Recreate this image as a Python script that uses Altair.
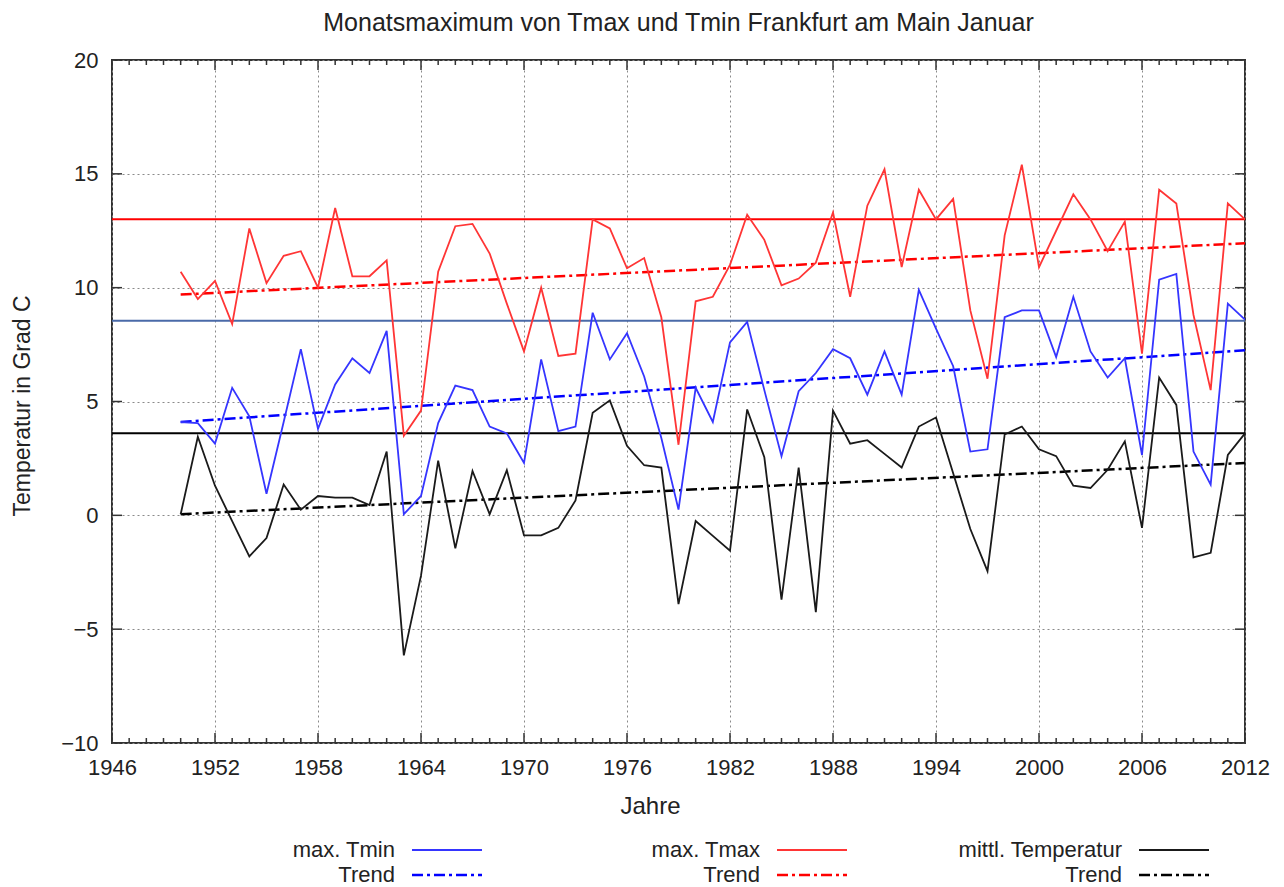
import altair as alt
import pandas as pd

# ---- data ----
years = list(range(1950, 2013))

tmax = [10.7, 9.5, 10.3, 8.4, 12.6, 10.2, 11.4, 11.6, 10.0, 13.5,
        10.5, 10.5, 11.2, 3.5, 4.6, 10.7, 12.7, 12.8, 11.5, 9.3,
        7.2, 10.0, 7.0, 7.1, 13.0, 12.6, 10.85, 11.3, 8.7, 3.1,
        9.4, 9.6, 11.0, 13.2, 12.1, 10.1, 10.4, 11.1, 13.3, 9.6,
        13.6, 15.2, 10.9, 14.3, 13.0, 13.9, 9.0, 6.0, 12.3, 15.4,
        10.9, 12.5, 14.1, 13.0, 11.6, 12.9, 7.1, 14.3, 13.7, 8.8,
        5.5, 13.7, 13.0]

tmin = [4.1, 4.05, 3.15, 5.6, 4.35, 0.95, 4.1, 7.3, 3.8, 5.75,
        6.9, 6.25, 8.1, 0.05, 0.85, 4.05, 5.7, 5.5, 3.9, 3.6,
        2.3, 6.85, 3.7, 3.9, 8.9, 6.85, 8.0, 6.1, 3.4, 0.25,
        5.6, 4.1, 7.6, 8.5, 5.5, 2.6, 5.45, 6.25, 7.3, 6.9,
        5.3, 7.2, 5.3, 9.9, 8.2, 6.55, 2.8, 2.9, 8.7, 9.0,
        9.0, 6.95, 9.6, 7.2, 6.05, 6.9, 2.65, 10.35, 10.6, 2.8,
        1.35, 9.3, 8.6]

tmean = [0.05, 3.45, 1.3, -0.25, -1.8, -1.0, 1.35, 0.25, 0.85, 0.78,
         0.78, 0.45, 2.8, -6.15, -2.65, 2.4, -1.45, 1.95, 0.05, 1.98,
         -0.88, -0.88, -0.55, 0.65, 4.5, 5.05, 3.05, 2.2, 2.1, -3.9,
         -0.25, -0.9, -1.55, 4.65, 2.55, -3.7, 2.1, -4.25, 4.6, 3.15,
         3.3, 2.7, 2.1, 3.9, 4.3, 1.85, -0.6, -2.45, 3.55, 3.9,
         2.9, 2.6, 1.3, 1.2, 2.0, 3.25, -0.55, 6.05, 4.85, -1.85,
         -1.65, 2.65, 3.6]

assert len(tmax) == len(years) == len(tmin) == len(tmean)

# trend end points (1950, 2012) and long-term level lines
trend_years = [1950, 2012]
trend_tmax = [9.7, 11.95]
trend_tmin = [4.1, 7.25]
trend_tmean = [0.05, 2.3]

level_years = [1946, 2012]
level_tmax = 13.0
level_tmin = 8.55
level_tmean = 3.6

x_ticks = list(range(1946, 2013, 6))
x_minor = [y for y in range(1946, 2013) if y not in x_ticks]
y_ticks = list(range(-10, 21, 5))

legend_labels = ["max. Tmin", "Trend", "max. Tmax", "Trend",
                 "mittl. Temperatur", "Trend"]

# ---- styling ----
FONT = "Liberation Sans"
W, H = 1133, 683
RED, BLUE, BLACK = "#ff3535", "#3535ff", "#1a1a1a"
LEVEL_BLUE = "#4a6aa8"
DASHDOT = [11, 4, 3, 4]

xs = alt.Scale(domain=[1946, 2012], nice=False, zero=False)
ys = alt.Scale(domain=[-10, 20], nice=False, zero=False)

x_axis = alt.Axis(values=x_ticks, format="d", title="Jahre", grid=True,
                  gridDash=[2, 3], gridColor="#8a8a8a", gridWidth=1,
                  ticks=False, domain=False, labelFontSize=22,
                  labelFont=FONT, labelColor="#222", labelPadding=14,
                  labelFlush=False, titleFont=FONT, titleFontSize=24,
                  titleFontWeight="normal", titleColor="#222",
                  titleY=63, titleX=538, titleBaseline="middle",
                  titleAlign="center")
y_axis = alt.Axis(values=y_ticks, title="Temperatur in Grad C", grid=True,
                  gridDash=[2, 3], gridColor="#8a8a8a", gridWidth=1,
                  ticks=False, domain=False, labelFontSize=22,
                  labelFont=FONT, labelColor="#222", labelPadding=14,
                  labelFlush=False, titleFont=FONT, titleFontSize=23,
                  titleFontWeight="normal", titleColor="#222",
                  titleX=-90, titleY=H / 2 + 4, titleAngle=-90,
                  titleBaseline="middle", titleAlign="center")

data = pd.DataFrame({"Jahr": years, "Tmax": tmax, "Tmin": tmin, "Tmittel": tmean})
trend = pd.DataFrame({"Jahr": trend_years, "Tmax": trend_tmax,
                      "Tmin": trend_tmin, "Tmittel": trend_tmean})
level = pd.DataFrame({"Jahr": level_years,
                      "Tmax": [level_tmax] * 2,
                      "Tmin": [level_tmin] * 2,
                      "Tmittel": [level_tmean] * 2})

# grid/axes carrier (invisible)
axes_layer = alt.Chart(data).mark_line(opacity=0).encode(
    x=alt.X("Jahr:Q", scale=xs, axis=x_axis),
    y=alt.Y("Tmax:Q", scale=ys, axis=y_axis),
)

def series(df, field, color, width, dash=None):
    kw = dict(color=color, strokeWidth=width)
    if dash:
        kw["strokeDash"] = dash
    return alt.Chart(df).mark_line(**kw).encode(
        x=alt.X("Jahr:Q", scale=xs),
        y=alt.Y(f"{field}:Q", scale=ys),
    )

layers = [axes_layer,
          series(level, "Tmax", "#ff0000", 2),
          series(level, "Tmin", LEVEL_BLUE, 2),
          series(level, "Tmittel", "#000000", 2),
          series(trend, "Tmax", "#ff0000", 2.5, DASHDOT),
          series(trend, "Tmin", "#0000ff", 2.5, DASHDOT),
          series(trend, "Tmittel", "#000000", 2.5, DASHDOT),
          series(data, "Tmittel", BLACK, 1.8),
          series(data, "Tmin", BLUE, 1.8),
          series(data, "Tmax", RED, 1.8)]

# inward ticks (gnuplot style) on all four sides
minor_df = pd.DataFrame({"Jahr": x_minor})
major_df = pd.DataFrame({"Jahr": x_ticks})
ytick_df = pd.DataFrame({"T": y_ticks})
TICK_COLOR = "#333"
for df, L in [(minor_df, 5), (major_df, 10)]:
    layers.append(alt.Chart(df).mark_rule(color=TICK_COLOR, strokeWidth=1.5).encode(
        x=alt.X("Jahr:Q", scale=xs), y=alt.value(H), y2=alt.value(H - L)))
    layers.append(alt.Chart(df).mark_rule(color=TICK_COLOR, strokeWidth=1.5).encode(
        x=alt.X("Jahr:Q", scale=xs), y=alt.value(0), y2=alt.value(L)))
for x0, x1 in [(0, 10), (W, W - 10)]:
    layers.append(alt.Chart(ytick_df).mark_rule(color=TICK_COLOR, strokeWidth=1.5).encode(
        y=alt.Y("T:Q", scale=ys), x=alt.value(x0), x2=alt.value(x1)))

# custom legend (label left of the line sample, as in gnuplot)
legend_styles = [(BLUE, None), ("#0000ff", DASHDOT),
                 (RED, None), ("#ff0000", DASHDOT),
                 (BLACK, None), ("#000000", DASHDOT)]
col_text_x = [283, 648, 1010]
row_y = [790, 815]
for i, (lab, (col, dash)) in enumerate(zip(legend_labels, legend_styles)):
    c, r = i // 2, i % 2
    tx = col_text_x[c]
    ldf = pd.DataFrame({"label": [lab]})
    layers.append(alt.Chart(ldf).mark_text(align="right", baseline="middle",
                                           font=FONT, fontSize=22, color="#222").encode(
        text="label:N", x=alt.value(tx), y=alt.value(row_y[r])))
    rk = dict(color=col, strokeWidth=2.5 if dash else 2)
    if dash:
        rk["strokeDash"] = DASHDOT
    layers.append(alt.Chart(ldf).mark_rule(**rk).encode(
        x=alt.value(tx + 17), x2=alt.value(tx + 87), y=alt.value(row_y[r])))

chart = alt.layer(*layers).properties(
    width=W, height=H,
    title=alt.TitleParams("Monatsmaximum von Tmax und Tmin Frankfurt am Main Januar",
                          font=FONT, fontSize=25, fontWeight="normal",
                          color="#222", anchor="middle", offset=13),
    autosize=alt.AutoSizeParams(type="none"),
    padding={"left": 104, "top": 52, "right": 30, "bottom": 144},
).configure_view(stroke="#333", strokeWidth=2)

chart.save("out.html", embed_options={"renderer": "svg", "actions": False})
